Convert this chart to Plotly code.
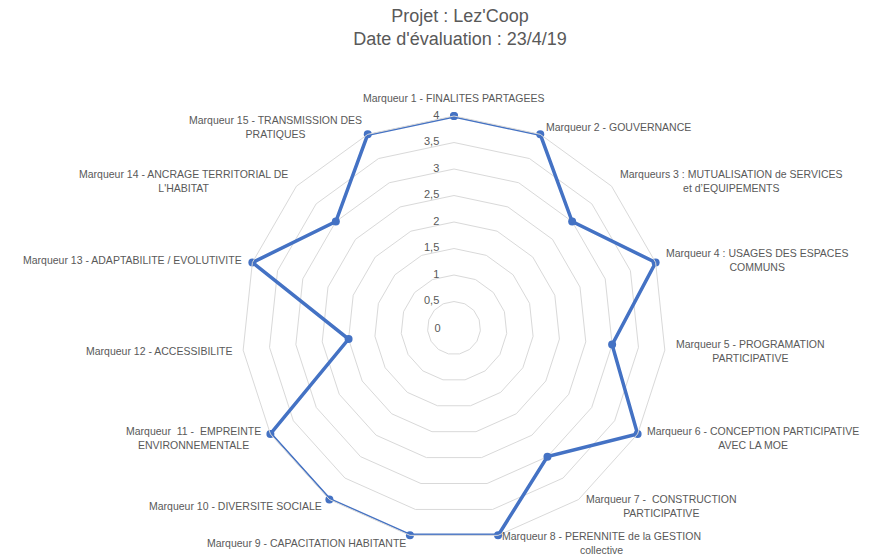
import math
import plotly.graph_objects as go

# data
markers = [
    "Marqueur 1 - FINALITES PARTAGEES",
    "Marqueur 2 - GOUVERNANCE",
    "Marqueurs 3 : MUTUALISATION de SERVICES<br>et d’EQUIPEMENTS",
    "Marqueur 4 : USAGES DES ESPACES<br>COMMUNS",
    "Marqueur 5 - PROGRAMATION<br>PARTICIPATIVE",
    "Marqueur 6 - CONCEPTION PARTICIPATIVE<br>AVEC LA MOE",
    "Marqueur 7 -  CONSTRUCTION<br>PARTICIPATIVE",
    "Marqueur 8 - PERENNITE de la GESTION<br>collective",
    "Marqueur 9 - CAPACITATION HABITANTE",
    "Marqueur 10 - DIVERSITE SOCIALE",
    "Marqueur  11 -  EMPREINTE<br>ENVIRONNEMENTALE",
    "Marqueur 12 - ACCESSIBILITE",
    "Marqueur 13 - ADAPTABILITE / EVOLUTIVITE",
    "Marqueur 14 - ANCRAGE TERRITORIAL DE<br>L'HABITAT",
    "Marqueur 15 - TRANSMISSION DES<br>PRATIQUES",
]
scores = [4, 4, 3, 4, 3, 4, 3, 4, 4, 4, 4, 2, 4, 3, 4]
radial_ticks = [0, 0.5, 1, 1.5, 2, 2.5, 3, 3.5, 4]
r_max = 4

BLUE = "#4472C4"
TEXT = "#595959"
GRID = "#D9D9D9"
FONT = "Liberation Sans, Arial"

W, H = 879, 557
# page body adds ~8px margin, so the figure is drawn shifted; compensate here
CX, CY, R = 446, 320, 212

tick_labels = [("%g" % v).replace(".", ",") for v in radial_ticks]

fig = go.Figure()

# radial scale labels left of the first spoke (the centre "0" comes from the axis itself,
# plotly hides a text point sitting exactly at r=0)
outer = [(v, t) for v, t in zip(radial_ticks, tick_labels) if v > 0]
fig.add_trace(
    go.Scatterpolar(
        r=[v for v, _ in outer],
        theta=[markers[0]] * len(outer),
        mode="markers+text",
        text=[t for _, t in outer],
        textposition="middle left",
        textfont=dict(size=11, color=TEXT, family=FONT),
        marker=dict(size=22, opacity=0),
        hoverinfo="skip",
        showlegend=False,
        cliponaxis=False,
    )
)

fig.add_trace(
    go.Scatterpolar(
        r=scores + scores[:1],
        theta=markers + markers[:1],
        mode="lines+markers",
        line=dict(color=BLUE, width=3.5),
        marker=dict(color=BLUE, size=8),
        showlegend=False,
        cliponaxis=False,
    )
)

# category labels placed next to each outer vertex (Excel style)
annotations = []
n = len(markers)
for i, lab in enumerate(markers):
    ang = 2 * math.pi * i / n
    s, c = math.sin(ang), math.cos(ang)
    vx = CX + R * s
    vy = CY - R * c
    if i == 0:
        xa, ya = "center", "bottom"
        px, py = vx, vy - 10
    else:
        xa = "left" if s > 0 else "right"
        ya = "middle"
        px, py = vx + 9 * s, vy - 8 * c
    annotations.append(
        dict(
            text=lab,
            x=px / W,
            y=1 - py / H,
            xref="paper",
            yref="paper",
            xanchor=xa,
            yanchor=ya,
            align="center",
            showarrow=False,
            font=dict(size=10.5, color=TEXT, family=FONT),
        )
    )

fig.update_layout(
    width=W,
    height=H,
    margin=dict(l=0, r=0, t=0, b=0),
    paper_bgcolor="white",
    font=dict(family=FONT, color=TEXT, size=11),
    annotations=annotations,
    title=dict(
        text="Projet : Lez'Coop<br>Date d'évaluation : 23/4/19",
        x=452 / W,
        y=0.975,
        xanchor="center",
        yanchor="top",
        font=dict(size=18, color=TEXT, family=FONT),
    ),
    polar=dict(
        domain=dict(
            x=[(CX - R) / W, (CX + R) / W],
            y=[1 - (CY + R) / H, 1 - (CY - R) / H],
        ),
        gridshape="linear",
        bgcolor="white",
        angularaxis=dict(
            direction="clockwise",
            rotation=90,
            showgrid=False,
            showline=True,
            linecolor=GRID,
            linewidth=1,
            ticks="",
            showticklabels=False,
        ),
        radialaxis=dict(
            range=[0, r_max],
            tickvals=radial_ticks,
            ticktext=[t if v == 0 else "" for v, t in zip(radial_ticks, tick_labels)],
            angle=90,
            tickangle=90,
            side="counterclockwise",
            showline=False,
            ticks="outside",
            ticklen=9,
            tickcolor="rgba(0,0,0,0)",
            showticklabels=True,
            tickfont=dict(size=11, color=TEXT, family=FONT),
            gridcolor=GRID,
            gridwidth=1,
        ),
    ),
)

fig.write_html("out.html")
